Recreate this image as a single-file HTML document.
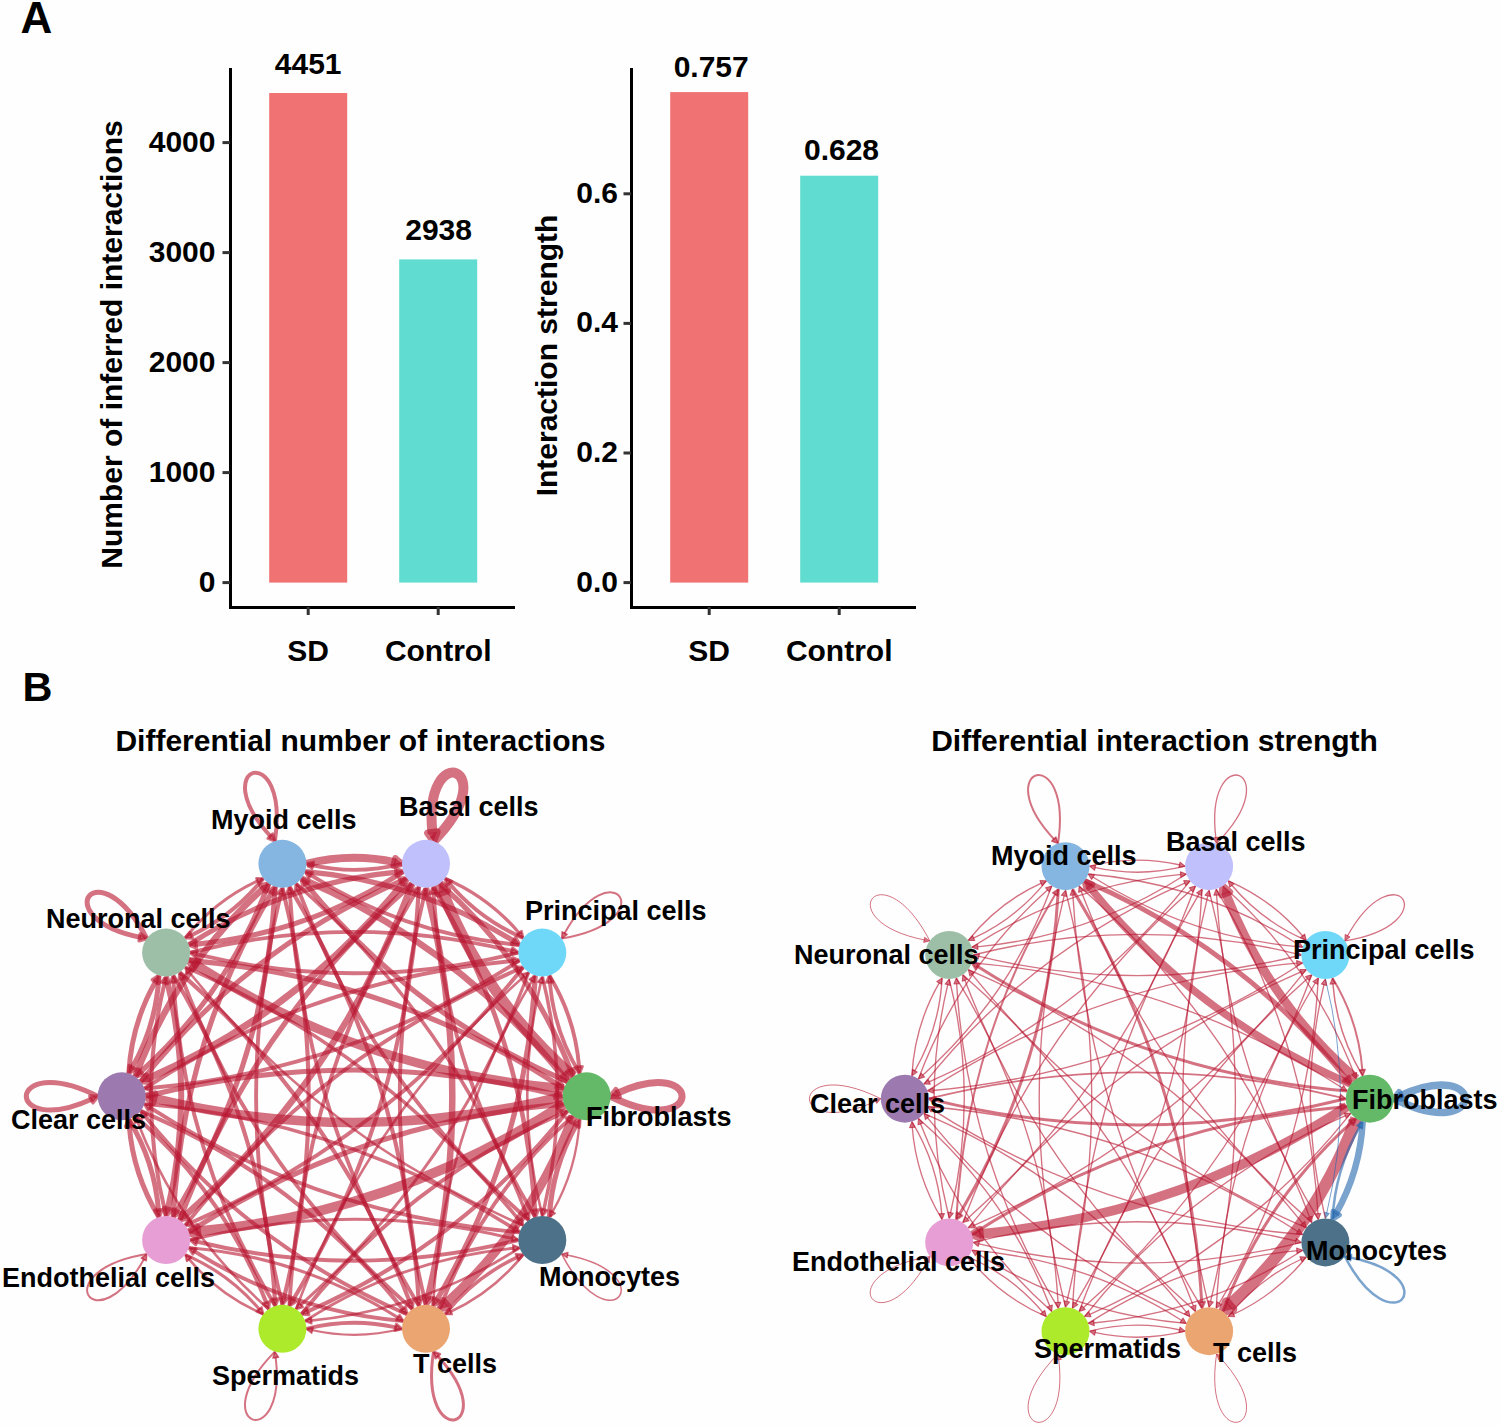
<!DOCTYPE html>
<html><head><meta charset="utf-8"><style>
html,body{margin:0;padding:0;background:#fefefe;}
svg{display:block;}

text{font-family:"Liberation Sans", sans-serif;font-weight:bold;fill:#000;}
</style></head><body>
<svg width="1500" height="1427" viewBox="0 0 1500 1427">
<rect width="1500" height="1427" fill="#fefefe"/>
<text x="20.5" y="33.3" font-size="44" text-anchor="start" >A</text>
<rect x="269.2" y="93.0" width="78" height="489.6" fill="#F17273"/>
<rect x="399.2" y="259.4" width="78" height="323.2" fill="#61DCD0"/>
<path d="M230.5,68 V607.5 H515" fill="none" stroke="#000" stroke-width="3"/>
<line x1="222.5" y1="582.6" x2="230" y2="582.6" stroke="#333" stroke-width="3"/>
<text x="215.5" y="591.6" font-size="30" text-anchor="end" >0</text>
<line x1="222.5" y1="472.6" x2="230" y2="472.6" stroke="#333" stroke-width="3"/>
<text x="215.5" y="481.6" font-size="30" text-anchor="end" >1000</text>
<line x1="222.5" y1="362.6" x2="230" y2="362.6" stroke="#333" stroke-width="3"/>
<text x="215.5" y="371.6" font-size="30" text-anchor="end" >2000</text>
<line x1="222.5" y1="252.6" x2="230" y2="252.6" stroke="#333" stroke-width="3"/>
<text x="215.5" y="261.6" font-size="30" text-anchor="end" >3000</text>
<line x1="222.5" y1="142.6" x2="230" y2="142.6" stroke="#333" stroke-width="3"/>
<text x="215.5" y="151.60000000000002" font-size="30" text-anchor="end" >4000</text>
<line x1="308.2" y1="607" x2="308.2" y2="615" stroke="#333" stroke-width="3"/>
<line x1="438.2" y1="607" x2="438.2" y2="615" stroke="#333" stroke-width="3"/>
<text x="308.2" y="661" font-size="30" text-anchor="middle" >SD</text>
<text x="438.2" y="661" font-size="30" text-anchor="middle" >Control</text>
<text x="308.2" y="73.5" font-size="30" text-anchor="middle" >4451</text>
<text x="438.6" y="239.5" font-size="30" text-anchor="middle" >2938</text>
<text x="0" y="0" font-size="30" text-anchor="middle" transform="translate(122.3,344.5) rotate(-90)">Number of inferred interactions</text>
<rect x="670.2" y="92.1" width="78" height="490.5" fill="#F17273"/>
<rect x="800.2" y="175.7" width="78" height="406.9" fill="#61DCD0"/>
<path d="M631.5,68 V607.5 H916" fill="none" stroke="#000" stroke-width="3"/>
<line x1="623.5" y1="582.6" x2="631" y2="582.6" stroke="#333" stroke-width="3"/>
<text x="618" y="591.6" font-size="30" text-anchor="end" >0.0</text>
<line x1="623.5" y1="453.0" x2="631" y2="453.0" stroke="#333" stroke-width="3"/>
<text x="618" y="462.0" font-size="30" text-anchor="end" >0.2</text>
<line x1="623.5" y1="323.4" x2="631" y2="323.4" stroke="#333" stroke-width="3"/>
<text x="618" y="332.40000000000003" font-size="30" text-anchor="end" >0.4</text>
<line x1="623.5" y1="193.8" x2="631" y2="193.8" stroke="#333" stroke-width="3"/>
<text x="618" y="202.8" font-size="30" text-anchor="end" >0.6</text>
<line x1="709.2" y1="607" x2="709.2" y2="615" stroke="#333" stroke-width="3"/>
<line x1="839.2" y1="607" x2="839.2" y2="615" stroke="#333" stroke-width="3"/>
<text x="709.2" y="661" font-size="30" text-anchor="middle" >SD</text>
<text x="839.2" y="661" font-size="30" text-anchor="middle" >Control</text>
<text x="711.2" y="76.8" font-size="30" text-anchor="middle" >0.757</text>
<text x="841.5" y="159.5" font-size="30" text-anchor="middle" >0.628</text>
<text x="0" y="0" font-size="30" text-anchor="middle" transform="translate(557.2,355.5) rotate(-90)">Interaction strength</text>
<text x="22.5" y="701.2" font-size="41.5" text-anchor="start" >B</text>
<text x="360.5" y="750.5" font-size="30" text-anchor="middle" >Differential number of interactions</text>
<text x="1154.5" y="750.5" font-size="30" text-anchor="middle" >Differential interaction strength</text>
<path d="M579.6,1073.4Q553.7,1030.7 549.8,981.3" fill="none" stroke="#b8142f" stroke-opacity="0.6" stroke-width="3.90"/><path d="M549.4,975.5L553.1,982.0 546.6,982.4Z" fill="#b8142f" fill-opacity="0.6" stroke="#b8142f" stroke-opacity="0.6" stroke-width="2.92" stroke-linejoin="round"/>
<path d="M573.1,1076.6Q484.9,999.4 442.4,890.7" fill="none" stroke="#b8142f" stroke-opacity="0.6" stroke-width="11.00"/><path d="M439.7,883.5L447.2,890.1 438.5,893.4Z" fill="#b8142f" fill-opacity="0.6" stroke="#b8142f" stroke-opacity="0.6" stroke-width="8.25" stroke-linejoin="round"/>
<path d="M567.6,1081.7Q411.8,1014.8 305.4,883.3" fill="none" stroke="#b8142f" stroke-opacity="0.6" stroke-width="5.20"/><path d="M301.4,878.4L308.6,881.7 303.1,886.1Z" fill="#b8142f" fill-opacity="0.6" stroke="#b8142f" stroke-opacity="0.6" stroke-width="3.90" stroke-linejoin="round"/>
<path d="M564.0,1088.5Q364.0,1072.0 195.1,964.4" fill="none" stroke="#b8142f" stroke-opacity="0.6" stroke-width="9.00"/><path d="M188.8,960.4L198.0,961.2 193.4,968.4Z" fill="#b8142f" fill-opacity="0.6" stroke="#b8142f" stroke-opacity="0.6" stroke-width="6.75" stroke-linejoin="round"/>
<path d="M562.7,1096.3Q357.7,1148.0 152.7,1098.0" fill="none" stroke="#b8142f" stroke-opacity="0.6" stroke-width="9.50"/><path d="M145.7,1096.3L154.9,1094.0 152.8,1102.6Z" fill="#b8142f" fill-opacity="0.6" stroke="#b8142f" stroke-opacity="0.6" stroke-width="7.12" stroke-linejoin="round"/>
<path d="M564.0,1104.1Q395.7,1213.4 196.3,1231.6" fill="none" stroke="#b8142f" stroke-opacity="0.6" stroke-width="10.00"/><path d="M188.8,1232.2L196.9,1227.0 197.7,1236.0Z" fill="#b8142f" fill-opacity="0.6" stroke="#b8142f" stroke-opacity="0.6" stroke-width="7.50" stroke-linejoin="round"/>
<path d="M567.6,1110.9Q461.9,1243.8 306.7,1311.9" fill="none" stroke="#b8142f" stroke-opacity="0.6" stroke-width="4.16"/><path d="M301.4,1314.2L306.3,1308.5 308.9,1314.6Z" fill="#b8142f" fill-opacity="0.6" stroke="#b8142f" stroke-opacity="0.6" stroke-width="3.12" stroke-linejoin="round"/>
<path d="M573.1,1116.0Q532.0,1226.0 445.1,1304.2" fill="none" stroke="#b8142f" stroke-opacity="0.6" stroke-width="9.10"/><path d="M439.7,1309.1L443.0,1300.4 448.7,1306.8Z" fill="#b8142f" fill-opacity="0.6" stroke="#b8142f" stroke-opacity="0.6" stroke-width="6.82" stroke-linejoin="round"/>
<path d="M579.6,1119.2Q577.0,1169.2 552.2,1212.4" fill="none" stroke="#b8142f" stroke-opacity="0.6" stroke-width="2.34"/><path d="M549.4,1217.1L550.0,1210.2 555.1,1213.2Z" fill="#b8142f" fill-opacity="0.6" stroke="#b8142f" stroke-opacity="0.6" stroke-width="1.75" stroke-linejoin="round"/>
<path d="M549.4,975.5Q575.3,1018.2 579.2,1067.6" fill="none" stroke="#b8142f" stroke-opacity="0.6" stroke-width="3.90"/><path d="M579.6,1073.4L575.9,1066.9 582.4,1066.5Z" fill="#b8142f" fill-opacity="0.6" stroke="#b8142f" stroke-opacity="0.6" stroke-width="2.92" stroke-linejoin="round"/>
<path d="M523.2,938.0Q479.3,919.2 448.7,882.8" fill="none" stroke="#b8142f" stroke-opacity="0.6" stroke-width="3.90"/><path d="M445.1,878.4L451.9,881.4 446.8,885.6Z" fill="#b8142f" fill-opacity="0.6" stroke="#b8142f" stroke-opacity="0.6" stroke-width="2.92" stroke-linejoin="round"/>
<path d="M519.6,944.8Q406.0,935.5 310.0,874.7" fill="none" stroke="#b8142f" stroke-opacity="0.6" stroke-width="3.90"/><path d="M305.1,871.6L312.5,872.4 308.9,877.9Z" fill="#b8142f" fill-opacity="0.6" stroke="#b8142f" stroke-opacity="0.6" stroke-width="2.92" stroke-linejoin="round"/>
<path d="M518.3,952.6Q357.2,993.2 196.1,954.1" fill="none" stroke="#b8142f" stroke-opacity="0.6" stroke-width="3.90"/><path d="M190.1,952.6L197.4,951.0 195.8,957.4Z" fill="#b8142f" fill-opacity="0.6" stroke="#b8142f" stroke-opacity="0.6" stroke-width="2.92" stroke-linejoin="round"/>
<path d="M519.6,960.4Q350.7,1070.1 150.5,1088.0" fill="none" stroke="#b8142f" stroke-opacity="0.6" stroke-width="3.90"/><path d="M144.4,1088.5L150.8,1084.7 151.3,1091.2Z" fill="#b8142f" fill-opacity="0.6" stroke="#b8142f" stroke-opacity="0.6" stroke-width="2.92" stroke-linejoin="round"/>
<path d="M523.2,967.2Q388.6,1136.6 190.5,1223.1" fill="none" stroke="#b8142f" stroke-opacity="0.6" stroke-width="3.90"/><path d="M185.2,1225.4L190.0,1219.8 192.6,1225.8Z" fill="#b8142f" fill-opacity="0.6" stroke="#b8142f" stroke-opacity="0.6" stroke-width="2.92" stroke-linejoin="round"/>
<path d="M528.7,972.4Q455.7,1167.4 300.2,1305.3" fill="none" stroke="#b8142f" stroke-opacity="0.6" stroke-width="3.12"/><path d="M296.0,1309.1L298.8,1302.5 302.9,1307.1Z" fill="#b8142f" fill-opacity="0.6" stroke="#b8142f" stroke-opacity="0.6" stroke-width="2.34" stroke-linejoin="round"/>
<path d="M535.2,975.5Q526.0,1150.3 436.5,1300.3" fill="none" stroke="#b8142f" stroke-opacity="0.6" stroke-width="5.20"/><path d="M433.1,1305.9L433.7,1298.0 439.8,1301.6Z" fill="#b8142f" fill-opacity="0.6" stroke="#b8142f" stroke-opacity="0.6" stroke-width="3.90" stroke-linejoin="round"/>
<path d="M542.3,976.6Q571.8,1093.5 543.7,1210.4" fill="none" stroke="#b8142f" stroke-opacity="0.6" stroke-width="3.51"/><path d="M542.3,1216.0L540.7,1208.9 547.0,1210.4Z" fill="#b8142f" fill-opacity="0.6" stroke="#b8142f" stroke-opacity="0.6" stroke-width="2.63" stroke-linejoin="round"/>
<path d="M439.7,883.5Q528.4,961.3 570.9,1070.9" fill="none" stroke="#b8142f" stroke-opacity="0.6" stroke-width="5.20"/><path d="M573.1,1076.6L567.2,1071.2 573.8,1068.7Z" fill="#b8142f" fill-opacity="0.6" stroke="#b8142f" stroke-opacity="0.6" stroke-width="3.90" stroke-linejoin="round"/>
<path d="M445.1,878.4Q489.1,897.3 519.7,933.7" fill="none" stroke="#b8142f" stroke-opacity="0.6" stroke-width="3.25"/><path d="M523.2,938.0L516.7,935.0 521.6,931.0Z" fill="#b8142f" fill-opacity="0.6" stroke="#b8142f" stroke-opacity="0.6" stroke-width="2.44" stroke-linejoin="round"/>
<path d="M402.0,863.8Q357.0,875.2 311.9,865.1" fill="none" stroke="#b8142f" stroke-opacity="0.6" stroke-width="3.90"/><path d="M306.4,863.8L313.6,862.1 312.1,868.5Z" fill="#b8142f" fill-opacity="0.6" stroke="#b8142f" stroke-opacity="0.6" stroke-width="2.92" stroke-linejoin="round"/>
<path d="M403.3,871.6Q307.9,933.5 195.0,944.3" fill="none" stroke="#b8142f" stroke-opacity="0.6" stroke-width="5.20"/><path d="M188.8,944.8L195.5,940.7 196.2,947.7Z" fill="#b8142f" fill-opacity="0.6" stroke="#b8142f" stroke-opacity="0.6" stroke-width="3.90" stroke-linejoin="round"/>
<path d="M407.0,878.4Q301.6,1010.9 147.1,1079.0" fill="none" stroke="#b8142f" stroke-opacity="0.6" stroke-width="7.00"/><path d="M140.8,1081.7L146.2,1075.1 149.3,1082.3Z" fill="#b8142f" fill-opacity="0.6" stroke="#b8142f" stroke-opacity="0.6" stroke-width="5.25" stroke-linejoin="round"/>
<path d="M412.4,883.5Q339.7,1077.9 185.0,1215.6" fill="none" stroke="#b8142f" stroke-opacity="0.6" stroke-width="6.50"/><path d="M179.7,1220.2L182.8,1212.5 187.8,1218.2Z" fill="#b8142f" fill-opacity="0.6" stroke="#b8142f" stroke-opacity="0.6" stroke-width="4.88" stroke-linejoin="round"/>
<path d="M419.0,886.7Q407.2,1109.6 292.6,1300.7" fill="none" stroke="#b8142f" stroke-opacity="0.6" stroke-width="4.16"/><path d="M289.4,1305.9L290.1,1298.4 295.8,1301.8Z" fill="#b8142f" fill-opacity="0.6" stroke="#b8142f" stroke-opacity="0.6" stroke-width="3.12" stroke-linejoin="round"/>
<path d="M426.0,887.8Q477.8,1093.2 427.6,1298.5" fill="none" stroke="#b8142f" stroke-opacity="0.6" stroke-width="6.50"/><path d="M426.0,1304.8L424.1,1296.7 431.5,1298.5Z" fill="#b8142f" fill-opacity="0.6" stroke="#b8142f" stroke-opacity="0.6" stroke-width="4.88" stroke-linejoin="round"/>
<path d="M433.1,886.7Q524.2,1036.5 534.9,1211.1" fill="none" stroke="#b8142f" stroke-opacity="0.6" stroke-width="4.68"/><path d="M535.2,1217.1L531.4,1210.4 538.2,1210.0Z" fill="#b8142f" fill-opacity="0.6" stroke="#b8142f" stroke-opacity="0.6" stroke-width="3.51" stroke-linejoin="round"/>
<path d="M301.4,878.4Q457.0,945.1 563.3,1076.3" fill="none" stroke="#b8142f" stroke-opacity="0.6" stroke-width="6.50"/><path d="M567.6,1081.7L560.0,1078.3 565.9,1073.5Z" fill="#b8142f" fill-opacity="0.6" stroke="#b8142f" stroke-opacity="0.6" stroke-width="4.88" stroke-linejoin="round"/>
<path d="M305.1,871.6Q418.5,880.9 514.3,941.5" fill="none" stroke="#b8142f" stroke-opacity="0.6" stroke-width="5.20"/><path d="M519.6,944.8L511.7,944.0 515.5,938.1Z" fill="#b8142f" fill-opacity="0.6" stroke="#b8142f" stroke-opacity="0.6" stroke-width="3.90" stroke-linejoin="round"/>
<path d="M306.4,863.8Q350.9,852.6 395.5,862.3" fill="none" stroke="#b8142f" stroke-opacity="0.6" stroke-width="8.00"/><path d="M402.0,863.8L393.4,866.0 395.3,858.0Z" fill="#b8142f" fill-opacity="0.6" stroke="#b8142f" stroke-opacity="0.6" stroke-width="6.00" stroke-linejoin="round"/>
<path d="M263.3,878.4Q233.5,915.8 190.4,935.7" fill="none" stroke="#b8142f" stroke-opacity="0.6" stroke-width="4.00"/><path d="M185.2,938.0L189.9,932.3 192.6,938.3Z" fill="#b8142f" fill-opacity="0.6" stroke="#b8142f" stroke-opacity="0.6" stroke-width="3.00" stroke-linejoin="round"/>
<path d="M268.7,883.5Q227.4,994.0 139.9,1072.5" fill="none" stroke="#b8142f" stroke-opacity="0.6" stroke-width="5.20"/><path d="M135.3,1076.6L138.3,1069.2 143.0,1074.5Z" fill="#b8142f" fill-opacity="0.6" stroke="#b8142f" stroke-opacity="0.6" stroke-width="3.90" stroke-linejoin="round"/>
<path d="M275.3,886.7Q266.0,1061.5 176.6,1211.5" fill="none" stroke="#b8142f" stroke-opacity="0.6" stroke-width="5.20"/><path d="M173.2,1217.1L173.8,1209.2 179.9,1212.8Z" fill="#b8142f" fill-opacity="0.6" stroke="#b8142f" stroke-opacity="0.6" stroke-width="3.90" stroke-linejoin="round"/>
<path d="M282.4,887.8Q334.1,1093.2 283.9,1298.5" fill="none" stroke="#b8142f" stroke-opacity="0.6" stroke-width="4.16"/><path d="M282.4,1304.8L280.7,1297.4 287.2,1299.1Z" fill="#b8142f" fill-opacity="0.6" stroke="#b8142f" stroke-opacity="0.6" stroke-width="3.12" stroke-linejoin="round"/>
<path d="M289.4,886.7Q405.4,1077.4 418.6,1299.9" fill="none" stroke="#b8142f" stroke-opacity="0.6" stroke-width="4.16"/><path d="M419.0,1305.9L415.3,1299.3 421.9,1298.9Z" fill="#b8142f" fill-opacity="0.6" stroke="#b8142f" stroke-opacity="0.6" stroke-width="3.12" stroke-linejoin="round"/>
<path d="M296.0,883.5Q452.6,1020.7 526.7,1215.0" fill="none" stroke="#b8142f" stroke-opacity="0.6" stroke-width="3.51"/><path d="M528.7,1220.2L523.3,1215.3 529.3,1213.0Z" fill="#b8142f" fill-opacity="0.6" stroke="#b8142f" stroke-opacity="0.6" stroke-width="2.63" stroke-linejoin="round"/>
<path d="M188.8,960.4Q389.5,976.9 558.8,1085.2" fill="none" stroke="#b8142f" stroke-opacity="0.6" stroke-width="5.20"/><path d="M564.0,1088.5L556.1,1087.7 560.0,1081.7Z" fill="#b8142f" fill-opacity="0.6" stroke="#b8142f" stroke-opacity="0.6" stroke-width="3.90" stroke-linejoin="round"/>
<path d="M190.1,952.6Q351.2,912.0 512.3,951.1" fill="none" stroke="#b8142f" stroke-opacity="0.6" stroke-width="3.90"/><path d="M518.3,952.6L511.0,954.2 512.6,947.8Z" fill="#b8142f" fill-opacity="0.6" stroke="#b8142f" stroke-opacity="0.6" stroke-width="2.92" stroke-linejoin="round"/>
<path d="M188.8,944.8Q284.2,882.9 397.1,872.1" fill="none" stroke="#b8142f" stroke-opacity="0.6" stroke-width="5.20"/><path d="M403.3,871.6L396.6,875.7 396.0,868.7Z" fill="#b8142f" fill-opacity="0.6" stroke="#b8142f" stroke-opacity="0.6" stroke-width="3.90" stroke-linejoin="round"/>
<path d="M185.2,938.0Q215.0,900.5 258.2,880.6" fill="none" stroke="#b8142f" stroke-opacity="0.6" stroke-width="3.00"/><path d="M263.3,878.4L258.7,883.8 256.2,878.2Z" fill="#b8142f" fill-opacity="0.6" stroke="#b8142f" stroke-opacity="0.6" stroke-width="2.25" stroke-linejoin="round"/>
<path d="M159.0,975.5Q156.4,1025.3 131.8,1068.2" fill="none" stroke="#b8142f" stroke-opacity="0.6" stroke-width="5.00"/><path d="M128.8,1073.4L129.3,1065.6 135.3,1069.1Z" fill="#b8142f" fill-opacity="0.6" stroke="#b8142f" stroke-opacity="0.6" stroke-width="3.75" stroke-linejoin="round"/>
<path d="M166.1,976.6Q195.5,1093.1 167.7,1209.6" fill="none" stroke="#b8142f" stroke-opacity="0.6" stroke-width="6.00"/><path d="M166.1,1216.0L164.2,1208.0 171.4,1209.8Z" fill="#b8142f" fill-opacity="0.6" stroke="#b8142f" stroke-opacity="0.6" stroke-width="4.50" stroke-linejoin="round"/>
<path d="M173.2,975.5Q264.3,1125.3 274.9,1299.9" fill="none" stroke="#b8142f" stroke-opacity="0.6" stroke-width="4.16"/><path d="M275.3,1305.9L271.6,1299.3 278.2,1298.9Z" fill="#b8142f" fill-opacity="0.6" stroke="#b8142f" stroke-opacity="0.6" stroke-width="3.12" stroke-linejoin="round"/>
<path d="M179.7,972.4Q336.1,1109.3 410.2,1303.1" fill="none" stroke="#b8142f" stroke-opacity="0.6" stroke-width="4.16"/><path d="M412.4,1309.1L406.9,1303.9 413.1,1301.6Z" fill="#b8142f" fill-opacity="0.6" stroke="#b8142f" stroke-opacity="0.6" stroke-width="3.12" stroke-linejoin="round"/>
<path d="M185.2,967.2Q384.1,1052.6 519.6,1220.9" fill="none" stroke="#b8142f" stroke-opacity="0.6" stroke-width="3.51"/><path d="M523.2,1225.4L516.6,1222.3 521.6,1218.3Z" fill="#b8142f" fill-opacity="0.6" stroke="#b8142f" stroke-opacity="0.6" stroke-width="2.63" stroke-linejoin="round"/>
<path d="M145.7,1096.3Q351.1,1044.5 556.4,1094.7" fill="none" stroke="#b8142f" stroke-opacity="0.6" stroke-width="5.20"/><path d="M562.7,1096.3L555.0,1098.0 556.7,1091.2Z" fill="#b8142f" fill-opacity="0.6" stroke="#b8142f" stroke-opacity="0.6" stroke-width="3.90" stroke-linejoin="round"/>
<path d="M144.4,1088.5Q313.3,978.9 513.5,960.9" fill="none" stroke="#b8142f" stroke-opacity="0.6" stroke-width="3.90"/><path d="M519.6,960.4L513.2,964.2 512.7,957.7Z" fill="#b8142f" fill-opacity="0.6" stroke="#b8142f" stroke-opacity="0.6" stroke-width="2.92" stroke-linejoin="round"/>
<path d="M140.8,1081.7Q246.3,949.0 401.2,880.9" fill="none" stroke="#b8142f" stroke-opacity="0.6" stroke-width="5.00"/><path d="M407.0,878.4L402.0,884.4 399.2,878.0Z" fill="#b8142f" fill-opacity="0.6" stroke="#b8142f" stroke-opacity="0.6" stroke-width="3.75" stroke-linejoin="round"/>
<path d="M135.3,1076.6Q176.6,966.3 263.9,887.8" fill="none" stroke="#b8142f" stroke-opacity="0.6" stroke-width="6.50"/><path d="M268.7,883.5L265.7,891.3 260.6,885.7Z" fill="#b8142f" fill-opacity="0.6" stroke="#b8142f" stroke-opacity="0.6" stroke-width="4.88" stroke-linejoin="round"/>
<path d="M128.8,1073.4Q131.4,1023.6 156.0,980.7" fill="none" stroke="#b8142f" stroke-opacity="0.6" stroke-width="5.00"/><path d="M159.0,975.5L158.5,983.3 152.5,979.8Z" fill="#b8142f" fill-opacity="0.6" stroke="#b8142f" stroke-opacity="0.6" stroke-width="3.75" stroke-linejoin="round"/>
<path d="M128.8,1119.2Q154.7,1161.8 158.6,1211.1" fill="none" stroke="#b8142f" stroke-opacity="0.6" stroke-width="5.00"/><path d="M159.0,1217.1L155.0,1210.3 162.0,1209.8Z" fill="#b8142f" fill-opacity="0.6" stroke="#b8142f" stroke-opacity="0.6" stroke-width="3.75" stroke-linejoin="round"/>
<path d="M135.3,1116.0Q224.1,1193.8 266.6,1303.4" fill="none" stroke="#b8142f" stroke-opacity="0.6" stroke-width="4.16"/><path d="M268.7,1309.1L263.2,1303.9 269.4,1301.6Z" fill="#b8142f" fill-opacity="0.6" stroke="#b8142f" stroke-opacity="0.6" stroke-width="3.12" stroke-linejoin="round"/>
<path d="M140.8,1110.9Q296.9,1177.9 403.4,1309.7" fill="none" stroke="#b8142f" stroke-opacity="0.6" stroke-width="4.16"/><path d="M407.0,1314.2L400.2,1311.1 405.3,1306.9Z" fill="#b8142f" fill-opacity="0.6" stroke="#b8142f" stroke-opacity="0.6" stroke-width="3.12" stroke-linejoin="round"/>
<path d="M144.4,1104.1Q345.1,1120.6 514.4,1228.9" fill="none" stroke="#b8142f" stroke-opacity="0.6" stroke-width="3.51"/><path d="M519.6,1232.2L512.3,1231.4 515.8,1226.0Z" fill="#b8142f" fill-opacity="0.6" stroke="#b8142f" stroke-opacity="0.6" stroke-width="2.63" stroke-linejoin="round"/>
<path d="M188.8,1232.2Q357.7,1122.5 557.9,1104.6" fill="none" stroke="#b8142f" stroke-opacity="0.6" stroke-width="5.20"/><path d="M564.0,1104.1L557.3,1108.2 556.6,1101.1Z" fill="#b8142f" fill-opacity="0.6" stroke="#b8142f" stroke-opacity="0.6" stroke-width="3.90" stroke-linejoin="round"/>
<path d="M185.2,1225.4Q319.8,1056.0 517.9,969.5" fill="none" stroke="#b8142f" stroke-opacity="0.6" stroke-width="3.90"/><path d="M523.2,967.2L518.4,972.8 515.8,966.8Z" fill="#b8142f" fill-opacity="0.6" stroke="#b8142f" stroke-opacity="0.6" stroke-width="2.92" stroke-linejoin="round"/>
<path d="M179.7,1220.2Q252.5,1025.5 407.7,887.7" fill="none" stroke="#b8142f" stroke-opacity="0.6" stroke-width="5.20"/><path d="M412.4,883.5L409.5,890.9 404.8,885.6Z" fill="#b8142f" fill-opacity="0.6" stroke="#b8142f" stroke-opacity="0.6" stroke-width="3.90" stroke-linejoin="round"/>
<path d="M173.2,1217.1Q182.4,1042.3 271.9,892.3" fill="none" stroke="#b8142f" stroke-opacity="0.6" stroke-width="5.20"/><path d="M275.3,886.7L274.7,894.6 268.6,891.0Z" fill="#b8142f" fill-opacity="0.6" stroke="#b8142f" stroke-opacity="0.6" stroke-width="3.90" stroke-linejoin="round"/>
<path d="M166.1,1216.0Q136.6,1099.1 164.7,982.2" fill="none" stroke="#b8142f" stroke-opacity="0.6" stroke-width="4.00"/><path d="M166.1,976.6L167.7,983.9 161.3,982.3Z" fill="#b8142f" fill-opacity="0.6" stroke="#b8142f" stroke-opacity="0.6" stroke-width="3.00" stroke-linejoin="round"/>
<path d="M159.0,1217.1Q133.1,1174.5 129.2,1125.2" fill="none" stroke="#b8142f" stroke-opacity="0.6" stroke-width="5.00"/><path d="M128.8,1119.2L132.8,1126.0 125.8,1126.5Z" fill="#b8142f" fill-opacity="0.6" stroke="#b8142f" stroke-opacity="0.6" stroke-width="3.75" stroke-linejoin="round"/>
<path d="M185.2,1254.6Q229.2,1273.5 259.8,1309.9" fill="none" stroke="#b8142f" stroke-opacity="0.6" stroke-width="3.12"/><path d="M263.3,1314.2L256.8,1311.2 261.6,1307.3Z" fill="#b8142f" fill-opacity="0.6" stroke="#b8142f" stroke-opacity="0.6" stroke-width="2.34" stroke-linejoin="round"/>
<path d="M188.8,1247.8Q302.4,1257.1 398.4,1317.9" fill="none" stroke="#b8142f" stroke-opacity="0.6" stroke-width="3.12"/><path d="M403.3,1321.0L396.2,1320.2 399.6,1314.9Z" fill="#b8142f" fill-opacity="0.6" stroke="#b8142f" stroke-opacity="0.6" stroke-width="2.34" stroke-linejoin="round"/>
<path d="M190.1,1240.0Q351.5,1199.3 512.8,1238.6" fill="none" stroke="#b8142f" stroke-opacity="0.6" stroke-width="2.93"/><path d="M518.3,1240.0L511.4,1241.5 512.8,1235.5Z" fill="#b8142f" fill-opacity="0.6" stroke="#b8142f" stroke-opacity="0.6" stroke-width="2.20" stroke-linejoin="round"/>
<path d="M301.4,1314.2Q407.1,1181.3 562.4,1113.2" fill="none" stroke="#b8142f" stroke-opacity="0.6" stroke-width="3.90"/><path d="M567.6,1110.9L562.8,1116.5 560.2,1110.5Z" fill="#b8142f" fill-opacity="0.6" stroke="#b8142f" stroke-opacity="0.6" stroke-width="2.92" stroke-linejoin="round"/>
<path d="M296.0,1309.1Q368.9,1114.0 524.4,976.1" fill="none" stroke="#b8142f" stroke-opacity="0.6" stroke-width="2.60"/><path d="M528.7,972.4L525.9,978.8 521.9,974.2Z" fill="#b8142f" fill-opacity="0.6" stroke="#b8142f" stroke-opacity="0.6" stroke-width="1.95" stroke-linejoin="round"/>
<path d="M289.4,1305.9Q301.2,1083.0 415.8,891.9" fill="none" stroke="#b8142f" stroke-opacity="0.6" stroke-width="3.90"/><path d="M419.0,886.7L418.3,894.1 412.7,890.7Z" fill="#b8142f" fill-opacity="0.6" stroke="#b8142f" stroke-opacity="0.6" stroke-width="2.92" stroke-linejoin="round"/>
<path d="M282.4,1304.8Q230.5,1099.1 281.0,893.4" fill="none" stroke="#b8142f" stroke-opacity="0.6" stroke-width="3.90"/><path d="M282.4,887.8L283.9,895.1 277.6,893.5Z" fill="#b8142f" fill-opacity="0.6" stroke="#b8142f" stroke-opacity="0.6" stroke-width="2.92" stroke-linejoin="round"/>
<path d="M275.3,1305.9Q184.2,1156.1 173.5,981.5" fill="none" stroke="#b8142f" stroke-opacity="0.6" stroke-width="3.90"/><path d="M173.2,975.5L176.8,982.0 170.3,982.4Z" fill="#b8142f" fill-opacity="0.6" stroke="#b8142f" stroke-opacity="0.6" stroke-width="2.92" stroke-linejoin="round"/>
<path d="M268.7,1309.1Q179.8,1231.2 137.3,1121.3" fill="none" stroke="#b8142f" stroke-opacity="0.6" stroke-width="2.60"/><path d="M135.3,1116.0L140.4,1120.8 134.8,1123.0Z" fill="#b8142f" fill-opacity="0.6" stroke="#b8142f" stroke-opacity="0.6" stroke-width="1.95" stroke-linejoin="round"/>
<path d="M263.3,1314.2Q219.2,1295.3 188.6,1258.7" fill="none" stroke="#b8142f" stroke-opacity="0.6" stroke-width="2.60"/><path d="M185.2,1254.6L191.5,1257.5 186.8,1261.3Z" fill="#b8142f" fill-opacity="0.6" stroke="#b8142f" stroke-opacity="0.6" stroke-width="1.95" stroke-linejoin="round"/>
<path d="M306.4,1328.8Q351.4,1317.4 396.5,1327.5" fill="none" stroke="#b8142f" stroke-opacity="0.6" stroke-width="3.77"/><path d="M402.0,1328.8L394.8,1330.5 396.3,1324.1Z" fill="#b8142f" fill-opacity="0.6" stroke="#b8142f" stroke-opacity="0.6" stroke-width="2.83" stroke-linejoin="round"/>
<path d="M305.1,1321.0Q400.8,1258.9 514.2,1248.2" fill="none" stroke="#b8142f" stroke-opacity="0.6" stroke-width="2.93"/><path d="M519.6,1247.8L513.5,1251.4 513.0,1245.2Z" fill="#b8142f" fill-opacity="0.6" stroke="#b8142f" stroke-opacity="0.6" stroke-width="2.20" stroke-linejoin="round"/>
<path d="M439.7,1309.1Q481.0,1198.6 568.5,1120.1" fill="none" stroke="#b8142f" stroke-opacity="0.6" stroke-width="3.90"/><path d="M573.1,1116.0L570.2,1122.9 565.9,1118.0Z" fill="#b8142f" fill-opacity="0.6" stroke="#b8142f" stroke-opacity="0.6" stroke-width="2.92" stroke-linejoin="round"/>
<path d="M433.1,1305.9Q442.4,1130.5 532.4,980.1" fill="none" stroke="#b8142f" stroke-opacity="0.6" stroke-width="2.60"/><path d="M535.2,975.5L534.6,982.5 529.4,979.4Z" fill="#b8142f" fill-opacity="0.6" stroke="#b8142f" stroke-opacity="0.6" stroke-width="1.95" stroke-linejoin="round"/>
<path d="M426.0,1304.8Q374.2,1099.1 424.7,893.4" fill="none" stroke="#b8142f" stroke-opacity="0.6" stroke-width="3.90"/><path d="M426.0,887.8L427.6,895.1 421.3,893.5Z" fill="#b8142f" fill-opacity="0.6" stroke="#b8142f" stroke-opacity="0.6" stroke-width="2.92" stroke-linejoin="round"/>
<path d="M419.0,1305.9Q303.0,1115.2 289.8,892.7" fill="none" stroke="#b8142f" stroke-opacity="0.6" stroke-width="3.90"/><path d="M289.4,886.7L293.1,893.2 286.5,893.6Z" fill="#b8142f" fill-opacity="0.6" stroke="#b8142f" stroke-opacity="0.6" stroke-width="2.92" stroke-linejoin="round"/>
<path d="M412.4,1309.1Q256.0,1172.1 182.0,978.3" fill="none" stroke="#b8142f" stroke-opacity="0.6" stroke-width="3.90"/><path d="M179.7,972.4L185.2,977.4 179.0,979.8Z" fill="#b8142f" fill-opacity="0.6" stroke="#b8142f" stroke-opacity="0.6" stroke-width="2.92" stroke-linejoin="round"/>
<path d="M407.0,1314.2Q250.9,1247.2 144.4,1115.4" fill="none" stroke="#b8142f" stroke-opacity="0.6" stroke-width="3.90"/><path d="M140.8,1110.9L147.5,1114.0 142.4,1118.1Z" fill="#b8142f" fill-opacity="0.6" stroke="#b8142f" stroke-opacity="0.6" stroke-width="2.92" stroke-linejoin="round"/>
<path d="M403.3,1321.0Q289.8,1311.7 193.7,1250.9" fill="none" stroke="#b8142f" stroke-opacity="0.6" stroke-width="3.90"/><path d="M188.8,1247.8L196.2,1248.6 192.7,1254.1Z" fill="#b8142f" fill-opacity="0.6" stroke="#b8142f" stroke-opacity="0.6" stroke-width="2.92" stroke-linejoin="round"/>
<path d="M402.0,1328.8Q356.8,1340.2 311.5,1330.0" fill="none" stroke="#b8142f" stroke-opacity="0.6" stroke-width="2.21"/><path d="M306.4,1328.8L313.0,1327.4 311.7,1333.1Z" fill="#b8142f" fill-opacity="0.6" stroke="#b8142f" stroke-opacity="0.6" stroke-width="1.66" stroke-linejoin="round"/>
<path d="M445.1,1314.2Q474.9,1276.8 518.0,1256.9" fill="none" stroke="#b8142f" stroke-opacity="0.6" stroke-width="3.51"/><path d="M523.2,1254.6L518.6,1260.2 515.9,1254.3Z" fill="#b8142f" fill-opacity="0.6" stroke="#b8142f" stroke-opacity="0.6" stroke-width="2.63" stroke-linejoin="round"/>
<path d="M549.4,1217.1Q552.0,1167.4 576.5,1124.5" fill="none" stroke="#b8142f" stroke-opacity="0.6" stroke-width="5.20"/><path d="M579.6,1119.2L579.1,1127.1 573.0,1123.5Z" fill="#b8142f" fill-opacity="0.6" stroke="#b8142f" stroke-opacity="0.6" stroke-width="3.90" stroke-linejoin="round"/>
<path d="M542.3,1216.0Q512.8,1098.9 541.0,981.8" fill="none" stroke="#b8142f" stroke-opacity="0.6" stroke-width="2.60"/><path d="M542.3,976.6L543.7,983.4 537.9,982.0Z" fill="#b8142f" fill-opacity="0.6" stroke="#b8142f" stroke-opacity="0.6" stroke-width="1.95" stroke-linejoin="round"/>
<path d="M535.2,1217.1Q444.1,1067.3 433.5,892.7" fill="none" stroke="#b8142f" stroke-opacity="0.6" stroke-width="3.90"/><path d="M433.1,886.7L436.8,893.2 430.2,893.6Z" fill="#b8142f" fill-opacity="0.6" stroke="#b8142f" stroke-opacity="0.6" stroke-width="2.92" stroke-linejoin="round"/>
<path d="M528.7,1220.2Q372.3,1083.3 298.2,889.5" fill="none" stroke="#b8142f" stroke-opacity="0.6" stroke-width="3.90"/><path d="M296.0,883.5L301.4,888.6 295.3,890.9Z" fill="#b8142f" fill-opacity="0.6" stroke="#b8142f" stroke-opacity="0.6" stroke-width="2.92" stroke-linejoin="round"/>
<path d="M523.2,1225.4Q324.3,1140.0 188.8,971.7" fill="none" stroke="#b8142f" stroke-opacity="0.6" stroke-width="2.60"/><path d="M185.2,967.2L191.5,970.2 186.7,974.0Z" fill="#b8142f" fill-opacity="0.6" stroke="#b8142f" stroke-opacity="0.6" stroke-width="1.95" stroke-linejoin="round"/>
<path d="M519.6,1232.2Q318.9,1215.7 149.6,1107.4" fill="none" stroke="#b8142f" stroke-opacity="0.6" stroke-width="3.90"/><path d="M144.4,1104.1L151.8,1104.9 148.2,1110.4Z" fill="#b8142f" fill-opacity="0.6" stroke="#b8142f" stroke-opacity="0.6" stroke-width="2.92" stroke-linejoin="round"/>
<path d="M518.3,1240.0Q357.2,1280.6 196.1,1241.5" fill="none" stroke="#b8142f" stroke-opacity="0.6" stroke-width="3.90"/><path d="M190.1,1240.0L197.4,1238.4 195.8,1244.8Z" fill="#b8142f" fill-opacity="0.6" stroke="#b8142f" stroke-opacity="0.6" stroke-width="2.92" stroke-linejoin="round"/>
<path d="M519.6,1247.8Q423.8,1309.9 310.5,1320.6" fill="none" stroke="#b8142f" stroke-opacity="0.6" stroke-width="2.60"/><path d="M305.1,1321.0L311.1,1317.5 311.6,1323.5Z" fill="#b8142f" fill-opacity="0.6" stroke="#b8142f" stroke-opacity="0.6" stroke-width="1.95" stroke-linejoin="round"/>
<path d="M523.2,1254.6Q493.4,1292.1 450.0,1312.0" fill="none" stroke="#b8142f" stroke-opacity="0.6" stroke-width="2.60"/><path d="M445.1,1314.2L449.6,1308.9 452.1,1314.4Z" fill="#b8142f" fill-opacity="0.6" stroke="#b8142f" stroke-opacity="0.6" stroke-width="1.95" stroke-linejoin="round"/>
<path d="M610.7,1096.3C703.8,1142.9 705.9,1052.8 616.8,1093.4" fill="none" stroke="#b8142f" stroke-opacity="0.6" stroke-width="7.00"/><path d="M610.7,1096.3L615.9,1089.5 619.2,1096.6Z" fill="#b8142f" fill-opacity="0.6" stroke="#b8142f" stroke-opacity="0.6" stroke-width="5.25" stroke-linejoin="round"/>
<path d="M561.7,938.5C665.0,921.3 612.6,846.6 564.2,933.9" fill="none" stroke="#b8142f" stroke-opacity="0.6" stroke-width="2.00"/><path d="M561.7,938.5L562.1,931.8 567.2,934.5Z" fill="#b8142f" fill-opacity="0.6" stroke="#b8142f" stroke-opacity="0.6" stroke-width="1.50" stroke-linejoin="round"/>
<path d="M433.5,841.0C506.3,767.0 422.0,737.2 432.5,833.3" fill="none" stroke="#b8142f" stroke-opacity="0.6" stroke-width="10.00"/><path d="M433.5,841.0L427.9,833.1 436.9,832.0Z" fill="#b8142f" fill-opacity="0.6" stroke="#b8142f" stroke-opacity="0.6" stroke-width="7.50" stroke-linejoin="round"/>
<path d="M274.9,841.0C290.5,737.7 203.5,764.1 271.0,836.9" fill="none" stroke="#b8142f" stroke-opacity="0.6" stroke-width="4.00"/><path d="M274.9,841.0L267.9,838.4 272.7,833.8Z" fill="#b8142f" fill-opacity="0.6" stroke="#b8142f" stroke-opacity="0.6" stroke-width="3.00" stroke-linejoin="round"/>
<path d="M146.7,938.5C98.6,845.9 43.9,918.0 140.6,937.4" fill="none" stroke="#b8142f" stroke-opacity="0.6" stroke-width="5.00"/><path d="M146.7,938.5L139.2,940.7 140.4,933.8Z" fill="#b8142f" fill-opacity="0.6" stroke="#b8142f" stroke-opacity="0.6" stroke-width="3.75" stroke-linejoin="round"/>
<path d="M97.7,1096.3C4.4,1049.7 2.5,1140.1 92.1,1099.0" fill="none" stroke="#b8142f" stroke-opacity="0.6" stroke-width="5.00"/><path d="M97.7,1096.3L92.9,1102.5 89.9,1096.2Z" fill="#b8142f" fill-opacity="0.6" stroke="#b8142f" stroke-opacity="0.6" stroke-width="3.75" stroke-linejoin="round"/>
<path d="M146.7,1254.1C43.4,1271.3 95.8,1346.0 144.2,1258.7" fill="none" stroke="#b8142f" stroke-opacity="0.6" stroke-width="2.00"/><path d="M146.7,1254.1L146.3,1260.8 141.2,1258.1Z" fill="#b8142f" fill-opacity="0.6" stroke="#b8142f" stroke-opacity="0.6" stroke-width="1.50" stroke-linejoin="round"/>
<path d="M274.9,1351.6C201.5,1426.2 287.8,1455.9 275.6,1356.8" fill="none" stroke="#b8142f" stroke-opacity="0.6" stroke-width="2.00"/><path d="M274.9,1351.6L278.6,1357.3 272.9,1358.1Z" fill="#b8142f" fill-opacity="0.6" stroke="#b8142f" stroke-opacity="0.6" stroke-width="1.50" stroke-linejoin="round"/>
<path d="M433.5,1351.6C417.9,1454.9 504.9,1428.5 437.4,1355.7" fill="none" stroke="#b8142f" stroke-opacity="0.6" stroke-width="3.00"/><path d="M433.5,1351.6L440.1,1354.1 435.6,1358.4Z" fill="#b8142f" fill-opacity="0.6" stroke="#b8142f" stroke-opacity="0.6" stroke-width="2.25" stroke-linejoin="round"/>
<path d="M561.7,1254.1C609.9,1347.0 664.8,1274.1 566.8,1255.0" fill="none" stroke="#b8142f" stroke-opacity="0.6" stroke-width="1.50"/><path d="M561.7,1254.1L568.1,1252.4 567.1,1257.9Z" fill="#b8142f" fill-opacity="0.6" stroke="#b8142f" stroke-opacity="0.6" stroke-width="1.12" stroke-linejoin="round"/>
<circle cx="586.7" cy="1096.3" r="24" fill="#63B967"/>
<circle cx="542.3" cy="952.6" r="24" fill="#6FD7F7"/>
<circle cx="426.0" cy="863.8" r="24" fill="#C0C0FD"/>
<circle cx="282.4" cy="863.8" r="24" fill="#85B6E1"/>
<circle cx="166.1" cy="952.6" r="24" fill="#9EBFA7"/>
<circle cx="121.7" cy="1096.3" r="24" fill="#9C79AE"/>
<circle cx="166.1" cy="1240.0" r="24" fill="#E69ED4"/>
<circle cx="282.4" cy="1328.8" r="24" fill="#ADEA2C"/>
<circle cx="426.0" cy="1328.8" r="24" fill="#EBA571"/>
<circle cx="542.3" cy="1240.0" r="24" fill="#4D7189"/>
<path d="M1362.7,1075.8Q1336.6,1032.8 1332.8,983.0" fill="none" stroke="#b8142f" stroke-opacity="0.6" stroke-width="1.50"/><path d="M1332.5,977.9L1335.7,983.7 1330.1,984.1Z" fill="#b8142f" fill-opacity="0.6" stroke="#b8142f" stroke-opacity="0.6" stroke-width="1.12" stroke-linejoin="round"/>
<path d="M1356.2,1079.0Q1267.9,1001.6 1225.4,892.7" fill="none" stroke="#b8142f" stroke-opacity="0.6" stroke-width="9.00"/><path d="M1222.8,885.9L1229.7,892.1 1221.7,895.1Z" fill="#b8142f" fill-opacity="0.6" stroke="#b8142f" stroke-opacity="0.6" stroke-width="6.75" stroke-linejoin="round"/>
<path d="M1350.7,1084.1Q1195.2,1017.4 1088.8,886.2" fill="none" stroke="#b8142f" stroke-opacity="0.6" stroke-width="7.50"/><path d="M1084.5,880.8L1092.5,884.3 1086.3,889.3Z" fill="#b8142f" fill-opacity="0.6" stroke="#b8142f" stroke-opacity="0.6" stroke-width="5.62" stroke-linejoin="round"/>
<path d="M1347.1,1090.9Q1146.1,1074.3 976.5,965.7" fill="none" stroke="#b8142f" stroke-opacity="0.6" stroke-width="3.00"/><path d="M971.9,962.8L979.0,963.6 975.6,968.8Z" fill="#b8142f" fill-opacity="0.6" stroke="#b8142f" stroke-opacity="0.6" stroke-width="2.25" stroke-linejoin="round"/>
<path d="M1345.8,1098.7Q1140.1,1150.5 934.4,1100.1" fill="none" stroke="#b8142f" stroke-opacity="0.6" stroke-width="3.00"/><path d="M928.8,1098.7L935.8,1097.2 934.3,1103.3Z" fill="#b8142f" fill-opacity="0.6" stroke="#b8142f" stroke-opacity="0.6" stroke-width="2.25" stroke-linejoin="round"/>
<path d="M1347.1,1106.5Q1178.8,1215.8 979.4,1234.0" fill="none" stroke="#b8142f" stroke-opacity="0.6" stroke-width="9.50"/><path d="M971.9,1234.6L979.8,1229.5 980.6,1238.3Z" fill="#b8142f" fill-opacity="0.6" stroke="#b8142f" stroke-opacity="0.6" stroke-width="7.12" stroke-linejoin="round"/>
<path d="M1350.7,1113.3Q1244.9,1246.5 1089.3,1314.6" fill="none" stroke="#b8142f" stroke-opacity="0.6" stroke-width="1.35"/><path d="M1084.5,1316.6L1088.8,1311.7 1091.0,1316.8Z" fill="#b8142f" fill-opacity="0.6" stroke="#b8142f" stroke-opacity="0.6" stroke-width="1.01" stroke-linejoin="round"/>
<path d="M1356.2,1118.4Q1315.2,1228.0 1228.8,1306.1" fill="none" stroke="#b8142f" stroke-opacity="0.6" stroke-width="12.00"/><path d="M1222.8,1311.5L1226.3,1301.7 1232.8,1309.1Z" fill="#b8142f" fill-opacity="0.6" stroke="#b8142f" stroke-opacity="0.6" stroke-width="9.00" stroke-linejoin="round"/>
<path d="M1362.7,1121.6Q1360.1,1171.1 1335.8,1213.9" fill="none" stroke="#2166ac" stroke-opacity="0.6" stroke-width="6.50"/><path d="M1332.5,1219.5L1333.0,1211.1 1339.5,1215.0Z" fill="#2166ac" fill-opacity="0.6" stroke="#2166ac" stroke-opacity="0.6" stroke-width="4.88" stroke-linejoin="round"/>
<path d="M1332.5,977.9Q1358.6,1020.8 1362.4,1070.5" fill="none" stroke="#b8142f" stroke-opacity="0.6" stroke-width="2.00"/><path d="M1362.7,1075.8L1359.4,1069.9 1365.2,1069.5Z" fill="#b8142f" fill-opacity="0.6" stroke="#b8142f" stroke-opacity="0.6" stroke-width="1.50" stroke-linejoin="round"/>
<path d="M1306.3,940.4Q1262.1,921.4 1231.4,884.7" fill="none" stroke="#b8142f" stroke-opacity="0.6" stroke-width="1.35"/><path d="M1228.2,880.8L1234.1,883.6 1229.8,887.1Z" fill="#b8142f" fill-opacity="0.6" stroke="#b8142f" stroke-opacity="0.6" stroke-width="1.01" stroke-linejoin="round"/>
<path d="M1302.7,947.2Q1188.7,937.8 1092.4,876.7" fill="none" stroke="#b8142f" stroke-opacity="0.6" stroke-width="1.35"/><path d="M1088.2,874.0L1094.6,874.8 1091.6,879.5Z" fill="#b8142f" fill-opacity="0.6" stroke="#b8142f" stroke-opacity="0.6" stroke-width="1.01" stroke-linejoin="round"/>
<path d="M1301.4,955.0Q1139.8,995.7 978.1,956.2" fill="none" stroke="#b8142f" stroke-opacity="0.6" stroke-width="1.35"/><path d="M973.2,955.0L979.6,953.7 978.3,959.1Z" fill="#b8142f" fill-opacity="0.6" stroke="#b8142f" stroke-opacity="0.6" stroke-width="1.01" stroke-linejoin="round"/>
<path d="M1302.7,962.8Q1133.5,1072.6 932.9,1090.5" fill="none" stroke="#b8142f" stroke-opacity="0.6" stroke-width="1.35"/><path d="M927.5,1090.9L933.2,1087.7 933.6,1093.2Z" fill="#b8142f" fill-opacity="0.6" stroke="#b8142f" stroke-opacity="0.6" stroke-width="1.01" stroke-linejoin="round"/>
<path d="M1306.3,969.6Q1171.4,1139.3 973.0,1225.8" fill="none" stroke="#b8142f" stroke-opacity="0.6" stroke-width="1.35"/><path d="M968.3,1227.8L972.6,1222.9 974.8,1228.0Z" fill="#b8142f" fill-opacity="0.6" stroke="#b8142f" stroke-opacity="0.6" stroke-width="1.01" stroke-linejoin="round"/>
<path d="M1311.8,974.8Q1238.8,1169.8 1083.3,1307.7" fill="none" stroke="#b8142f" stroke-opacity="0.6" stroke-width="1.35"/><path d="M1079.1,1311.5L1081.7,1305.5 1085.4,1309.6Z" fill="#b8142f" fill-opacity="0.6" stroke="#b8142f" stroke-opacity="0.6" stroke-width="1.01" stroke-linejoin="round"/>
<path d="M1318.3,977.9Q1309.0,1153.3 1219.0,1303.7" fill="none" stroke="#b8142f" stroke-opacity="0.6" stroke-width="1.35"/><path d="M1216.2,1308.3L1216.9,1301.8 1221.7,1304.6Z" fill="#b8142f" fill-opacity="0.6" stroke="#b8142f" stroke-opacity="0.6" stroke-width="1.01" stroke-linejoin="round"/>
<path d="M1325.4,979.0Q1355.0,1096.3 1326.6,1213.6" fill="none" stroke="#2166ac" stroke-opacity="0.6" stroke-width="1.00"/><path d="M1325.4,1218.4L1324.2,1212.1 1329.4,1213.4Z" fill="#2166ac" fill-opacity="0.6" stroke="#2166ac" stroke-opacity="0.6" stroke-width="0.75" stroke-linejoin="round"/>
<path d="M1222.8,885.9Q1311.8,963.9 1354.3,1074.1" fill="none" stroke="#b8142f" stroke-opacity="0.6" stroke-width="1.35"/><path d="M1356.2,1079.0L1351.5,1074.4 1356.6,1072.5Z" fill="#b8142f" fill-opacity="0.6" stroke="#b8142f" stroke-opacity="0.6" stroke-width="1.01" stroke-linejoin="round"/>
<path d="M1228.2,880.8Q1272.5,899.8 1303.1,936.5" fill="none" stroke="#b8142f" stroke-opacity="0.6" stroke-width="1.35"/><path d="M1306.3,940.4L1300.4,937.6 1304.7,934.1Z" fill="#b8142f" fill-opacity="0.6" stroke="#b8142f" stroke-opacity="0.6" stroke-width="1.01" stroke-linejoin="round"/>
<path d="M1185.1,866.2Q1139.8,877.6 1094.4,867.4" fill="none" stroke="#b8142f" stroke-opacity="0.6" stroke-width="1.35"/><path d="M1089.5,866.2L1095.8,864.9 1094.6,870.3Z" fill="#b8142f" fill-opacity="0.6" stroke="#b8142f" stroke-opacity="0.6" stroke-width="1.01" stroke-linejoin="round"/>
<path d="M1186.4,874.0Q1090.5,936.3 977.0,946.8" fill="none" stroke="#b8142f" stroke-opacity="0.6" stroke-width="1.35"/><path d="M971.9,947.2L977.6,944.0 978.0,949.5Z" fill="#b8142f" fill-opacity="0.6" stroke="#b8142f" stroke-opacity="0.6" stroke-width="1.01" stroke-linejoin="round"/>
<path d="M1190.1,880.8Q1084.2,1014.0 928.6,1082.1" fill="none" stroke="#b8142f" stroke-opacity="0.6" stroke-width="1.35"/><path d="M923.9,1084.1L928.2,1079.2 930.4,1084.3Z" fill="#b8142f" fill-opacity="0.6" stroke="#b8142f" stroke-opacity="0.6" stroke-width="1.01" stroke-linejoin="round"/>
<path d="M1195.5,885.9Q1122.6,1081.0 967.1,1218.9" fill="none" stroke="#b8142f" stroke-opacity="0.6" stroke-width="1.35"/><path d="M962.8,1222.6L965.4,1216.7 969.1,1220.8Z" fill="#b8142f" fill-opacity="0.6" stroke="#b8142f" stroke-opacity="0.6" stroke-width="1.01" stroke-linejoin="round"/>
<path d="M1202.1,889.1Q1190.3,1112.4 1075.3,1303.8" fill="none" stroke="#b8142f" stroke-opacity="0.6" stroke-width="1.35"/><path d="M1072.5,1308.3L1073.2,1301.8 1078.0,1304.6Z" fill="#b8142f" fill-opacity="0.6" stroke="#b8142f" stroke-opacity="0.6" stroke-width="1.01" stroke-linejoin="round"/>
<path d="M1209.1,890.2Q1261.0,1095.9 1210.5,1301.6" fill="none" stroke="#b8142f" stroke-opacity="0.6" stroke-width="1.35"/><path d="M1209.1,1307.2L1207.9,1300.8 1213.3,1302.1Z" fill="#b8142f" fill-opacity="0.6" stroke="#b8142f" stroke-opacity="0.6" stroke-width="1.01" stroke-linejoin="round"/>
<path d="M1216.2,889.1Q1307.5,1039.2 1318.0,1214.1" fill="none" stroke="#b8142f" stroke-opacity="0.6" stroke-width="1.35"/><path d="M1318.3,1219.5L1315.2,1213.7 1320.7,1213.4Z" fill="#b8142f" fill-opacity="0.6" stroke="#b8142f" stroke-opacity="0.6" stroke-width="1.01" stroke-linejoin="round"/>
<path d="M1084.5,880.8Q1240.3,947.7 1346.8,1079.2" fill="none" stroke="#b8142f" stroke-opacity="0.6" stroke-width="5.00"/><path d="M1350.7,1084.1L1343.6,1080.9 1349.1,1076.5Z" fill="#b8142f" fill-opacity="0.6" stroke="#b8142f" stroke-opacity="0.6" stroke-width="3.75" stroke-linejoin="round"/>
<path d="M1088.2,874.0Q1202.1,883.4 1298.4,944.5" fill="none" stroke="#b8142f" stroke-opacity="0.6" stroke-width="1.35"/><path d="M1302.7,947.2L1296.2,946.4 1299.2,941.7Z" fill="#b8142f" fill-opacity="0.6" stroke="#b8142f" stroke-opacity="0.6" stroke-width="1.01" stroke-linejoin="round"/>
<path d="M1089.5,866.2Q1134.8,854.8 1180.2,865.0" fill="none" stroke="#b8142f" stroke-opacity="0.6" stroke-width="1.35"/><path d="M1185.1,866.2L1178.8,867.5 1180.0,862.1Z" fill="#b8142f" fill-opacity="0.6" stroke="#b8142f" stroke-opacity="0.6" stroke-width="1.01" stroke-linejoin="round"/>
<path d="M1046.4,880.8Q1016.4,918.5 972.9,938.4" fill="none" stroke="#b8142f" stroke-opacity="0.6" stroke-width="1.35"/><path d="M968.3,940.4L972.5,935.5 974.8,940.6Z" fill="#b8142f" fill-opacity="0.6" stroke="#b8142f" stroke-opacity="0.6" stroke-width="1.01" stroke-linejoin="round"/>
<path d="M1051.8,885.9Q1010.4,996.8 922.4,1075.5" fill="none" stroke="#b8142f" stroke-opacity="0.6" stroke-width="1.35"/><path d="M918.4,1079.0L921.0,1073.0 924.7,1077.1Z" fill="#b8142f" fill-opacity="0.6" stroke="#b8142f" stroke-opacity="0.6" stroke-width="1.01" stroke-linejoin="round"/>
<path d="M1058.4,889.1Q1049.1,1064.2 959.4,1214.4" fill="none" stroke="#b8142f" stroke-opacity="0.6" stroke-width="3.00"/><path d="M956.3,1219.5L956.9,1212.4 962.2,1215.6Z" fill="#b8142f" fill-opacity="0.6" stroke="#b8142f" stroke-opacity="0.6" stroke-width="2.25" stroke-linejoin="round"/>
<path d="M1065.5,890.2Q1117.3,1095.9 1066.8,1301.6" fill="none" stroke="#b8142f" stroke-opacity="0.6" stroke-width="1.35"/><path d="M1065.5,1307.2L1064.2,1300.8 1069.6,1302.1Z" fill="#b8142f" fill-opacity="0.6" stroke="#b8142f" stroke-opacity="0.6" stroke-width="1.01" stroke-linejoin="round"/>
<path d="M1072.5,889.1Q1188.5,1079.8 1201.7,1302.3" fill="none" stroke="#b8142f" stroke-opacity="0.6" stroke-width="3.00"/><path d="M1202.1,1308.3L1198.6,1302.1 1204.8,1301.7Z" fill="#b8142f" fill-opacity="0.6" stroke="#b8142f" stroke-opacity="0.6" stroke-width="2.25" stroke-linejoin="round"/>
<path d="M1079.1,885.9Q1235.7,1023.1 1309.8,1217.4" fill="none" stroke="#b8142f" stroke-opacity="0.6" stroke-width="1.35"/><path d="M1311.8,1222.6L1307.1,1218.1 1312.3,1216.1Z" fill="#b8142f" fill-opacity="0.6" stroke="#b8142f" stroke-opacity="0.6" stroke-width="1.01" stroke-linejoin="round"/>
<path d="M971.9,962.8Q1172.9,979.4 1342.5,1088.0" fill="none" stroke="#b8142f" stroke-opacity="0.6" stroke-width="1.35"/><path d="M1347.1,1090.9L1340.6,1090.1 1343.6,1085.4Z" fill="#b8142f" fill-opacity="0.6" stroke="#b8142f" stroke-opacity="0.6" stroke-width="1.01" stroke-linejoin="round"/>
<path d="M973.2,955.0Q1134.8,914.3 1296.5,953.8" fill="none" stroke="#b8142f" stroke-opacity="0.6" stroke-width="1.35"/><path d="M1301.4,955.0L1295.0,956.3 1296.3,950.9Z" fill="#b8142f" fill-opacity="0.6" stroke="#b8142f" stroke-opacity="0.6" stroke-width="1.01" stroke-linejoin="round"/>
<path d="M971.9,947.2Q1067.8,885.0 1181.4,874.4" fill="none" stroke="#b8142f" stroke-opacity="0.6" stroke-width="1.35"/><path d="M1186.4,874.0L1180.8,877.2 1180.3,871.7Z" fill="#b8142f" fill-opacity="0.6" stroke="#b8142f" stroke-opacity="0.6" stroke-width="1.01" stroke-linejoin="round"/>
<path d="M968.3,940.4Q998.2,902.7 1041.8,882.8" fill="none" stroke="#b8142f" stroke-opacity="0.6" stroke-width="1.35"/><path d="M1046.4,880.8L1042.1,885.7 1039.9,880.6Z" fill="#b8142f" fill-opacity="0.6" stroke="#b8142f" stroke-opacity="0.6" stroke-width="1.01" stroke-linejoin="round"/>
<path d="M942.1,977.9Q939.5,1028.1 914.5,1071.4" fill="none" stroke="#b8142f" stroke-opacity="0.6" stroke-width="1.35"/><path d="M911.9,1075.8L912.5,1069.3 917.3,1072.1Z" fill="#b8142f" fill-opacity="0.6" stroke="#b8142f" stroke-opacity="0.6" stroke-width="1.01" stroke-linejoin="round"/>
<path d="M949.2,979.0Q978.7,1096.1 950.5,1213.2" fill="none" stroke="#b8142f" stroke-opacity="0.6" stroke-width="1.35"/><path d="M949.2,1218.4L947.9,1212.0 953.3,1213.3Z" fill="#b8142f" fill-opacity="0.6" stroke="#b8142f" stroke-opacity="0.6" stroke-width="1.01" stroke-linejoin="round"/>
<path d="M956.3,977.9Q1047.6,1128.0 1058.1,1302.9" fill="none" stroke="#b8142f" stroke-opacity="0.6" stroke-width="1.35"/><path d="M1058.4,1308.3L1055.3,1302.5 1060.8,1302.2Z" fill="#b8142f" fill-opacity="0.6" stroke="#b8142f" stroke-opacity="0.6" stroke-width="1.01" stroke-linejoin="round"/>
<path d="M962.8,974.8Q1119.5,1111.9 1193.5,1306.2" fill="none" stroke="#b8142f" stroke-opacity="0.6" stroke-width="1.35"/><path d="M1195.5,1311.5L1190.8,1306.9 1196.0,1305.0Z" fill="#b8142f" fill-opacity="0.6" stroke="#b8142f" stroke-opacity="0.6" stroke-width="1.01" stroke-linejoin="round"/>
<path d="M968.3,969.6Q1167.5,1055.1 1303.1,1223.8" fill="none" stroke="#b8142f" stroke-opacity="0.6" stroke-width="1.35"/><path d="M1306.3,1227.8L1300.5,1224.9 1304.8,1221.5Z" fill="#b8142f" fill-opacity="0.6" stroke="#b8142f" stroke-opacity="0.6" stroke-width="1.01" stroke-linejoin="round"/>
<path d="M928.8,1098.7Q1134.5,1046.9 1340.2,1097.3" fill="none" stroke="#b8142f" stroke-opacity="0.6" stroke-width="1.80"/><path d="M1345.8,1098.7L1339.2,1100.0 1340.6,1094.5Z" fill="#b8142f" fill-opacity="0.6" stroke="#b8142f" stroke-opacity="0.6" stroke-width="1.35" stroke-linejoin="round"/>
<path d="M927.5,1090.9Q1096.7,981.1 1297.3,963.2" fill="none" stroke="#b8142f" stroke-opacity="0.6" stroke-width="1.35"/><path d="M1302.7,962.8L1297.0,966.0 1296.6,960.5Z" fill="#b8142f" fill-opacity="0.6" stroke="#b8142f" stroke-opacity="0.6" stroke-width="1.01" stroke-linejoin="round"/>
<path d="M923.9,1084.1Q1029.7,950.9 1185.3,882.8" fill="none" stroke="#b8142f" stroke-opacity="0.6" stroke-width="1.35"/><path d="M1190.1,880.8L1185.8,885.7 1183.6,880.6Z" fill="#b8142f" fill-opacity="0.6" stroke="#b8142f" stroke-opacity="0.6" stroke-width="1.01" stroke-linejoin="round"/>
<path d="M918.4,1079.0Q959.9,968.1 1047.9,889.4" fill="none" stroke="#b8142f" stroke-opacity="0.6" stroke-width="1.35"/><path d="M1051.8,885.9L1049.2,891.9 1045.6,887.8Z" fill="#b8142f" fill-opacity="0.6" stroke="#b8142f" stroke-opacity="0.6" stroke-width="1.01" stroke-linejoin="round"/>
<path d="M911.9,1075.8Q914.5,1025.6 939.5,982.3" fill="none" stroke="#b8142f" stroke-opacity="0.6" stroke-width="1.35"/><path d="M942.1,977.9L941.5,984.4 936.7,981.6Z" fill="#b8142f" fill-opacity="0.6" stroke="#b8142f" stroke-opacity="0.6" stroke-width="1.01" stroke-linejoin="round"/>
<path d="M911.9,1121.6Q938.0,1164.6 941.8,1214.4" fill="none" stroke="#b8142f" stroke-opacity="0.6" stroke-width="1.35"/><path d="M942.1,1219.5L939.0,1213.8 944.5,1213.4Z" fill="#b8142f" fill-opacity="0.6" stroke="#b8142f" stroke-opacity="0.6" stroke-width="1.01" stroke-linejoin="round"/>
<path d="M918.4,1118.4Q1007.5,1196.4 1050.0,1306.6" fill="none" stroke="#b8142f" stroke-opacity="0.6" stroke-width="1.35"/><path d="M1051.8,1311.5L1047.1,1306.9 1052.3,1305.0Z" fill="#b8142f" fill-opacity="0.6" stroke="#b8142f" stroke-opacity="0.6" stroke-width="1.01" stroke-linejoin="round"/>
<path d="M923.9,1113.3Q1080.2,1180.4 1186.8,1312.6" fill="none" stroke="#b8142f" stroke-opacity="0.6" stroke-width="1.35"/><path d="M1190.1,1316.6L1184.2,1313.8 1188.5,1310.3Z" fill="#b8142f" fill-opacity="0.6" stroke="#b8142f" stroke-opacity="0.6" stroke-width="1.01" stroke-linejoin="round"/>
<path d="M927.5,1106.5Q1128.5,1123.1 1298.1,1231.7" fill="none" stroke="#b8142f" stroke-opacity="0.6" stroke-width="1.35"/><path d="M1302.7,1234.6L1296.2,1233.8 1299.2,1229.1Z" fill="#b8142f" fill-opacity="0.6" stroke="#b8142f" stroke-opacity="0.6" stroke-width="1.01" stroke-linejoin="round"/>
<path d="M971.9,1234.6Q1141.1,1124.8 1341.7,1106.9" fill="none" stroke="#b8142f" stroke-opacity="0.6" stroke-width="3.00"/><path d="M1347.1,1106.5L1341.0,1110.1 1340.4,1103.9Z" fill="#b8142f" fill-opacity="0.6" stroke="#b8142f" stroke-opacity="0.6" stroke-width="2.25" stroke-linejoin="round"/>
<path d="M968.3,1227.8Q1103.2,1058.1 1301.6,971.6" fill="none" stroke="#b8142f" stroke-opacity="0.6" stroke-width="1.35"/><path d="M1306.3,969.6L1302.0,974.5 1299.8,969.4Z" fill="#b8142f" fill-opacity="0.6" stroke="#b8142f" stroke-opacity="0.6" stroke-width="1.01" stroke-linejoin="round"/>
<path d="M962.8,1222.6Q1035.8,1027.6 1191.3,889.7" fill="none" stroke="#b8142f" stroke-opacity="0.6" stroke-width="1.35"/><path d="M1195.5,885.9L1192.9,891.9 1189.2,887.8Z" fill="#b8142f" fill-opacity="0.6" stroke="#b8142f" stroke-opacity="0.6" stroke-width="1.01" stroke-linejoin="round"/>
<path d="M956.3,1219.5Q965.6,1044.1 1055.6,893.7" fill="none" stroke="#b8142f" stroke-opacity="0.6" stroke-width="2.00"/><path d="M1058.4,889.1L1057.7,895.9 1052.7,892.9Z" fill="#b8142f" fill-opacity="0.6" stroke="#b8142f" stroke-opacity="0.6" stroke-width="1.50" stroke-linejoin="round"/>
<path d="M949.2,1218.4Q919.7,1101.3 947.9,984.2" fill="none" stroke="#b8142f" stroke-opacity="0.6" stroke-width="1.35"/><path d="M949.2,979.0L950.5,985.4 945.1,984.1Z" fill="#b8142f" fill-opacity="0.6" stroke="#b8142f" stroke-opacity="0.6" stroke-width="1.01" stroke-linejoin="round"/>
<path d="M942.1,1219.5Q916.0,1176.5 912.2,1126.7" fill="none" stroke="#b8142f" stroke-opacity="0.6" stroke-width="1.35"/><path d="M911.9,1121.6L915.0,1127.3 909.5,1127.7Z" fill="#b8142f" fill-opacity="0.6" stroke="#b8142f" stroke-opacity="0.6" stroke-width="1.01" stroke-linejoin="round"/>
<path d="M968.3,1257.0Q1012.5,1276.0 1043.2,1312.7" fill="none" stroke="#b8142f" stroke-opacity="0.6" stroke-width="1.35"/><path d="M1046.4,1316.6L1040.5,1313.8 1044.8,1310.3Z" fill="#b8142f" fill-opacity="0.6" stroke="#b8142f" stroke-opacity="0.6" stroke-width="1.01" stroke-linejoin="round"/>
<path d="M971.9,1250.2Q1085.9,1259.6 1182.2,1320.7" fill="none" stroke="#b8142f" stroke-opacity="0.6" stroke-width="1.35"/><path d="M1186.4,1323.4L1180.0,1322.6 1183.0,1317.9Z" fill="#b8142f" fill-opacity="0.6" stroke="#b8142f" stroke-opacity="0.6" stroke-width="1.01" stroke-linejoin="round"/>
<path d="M973.2,1242.4Q1134.8,1201.7 1296.5,1241.2" fill="none" stroke="#b8142f" stroke-opacity="0.6" stroke-width="1.35"/><path d="M1301.4,1242.4L1295.0,1243.7 1296.3,1238.3Z" fill="#b8142f" fill-opacity="0.6" stroke="#b8142f" stroke-opacity="0.6" stroke-width="1.01" stroke-linejoin="round"/>
<path d="M1084.5,1316.6Q1190.4,1183.4 1346.0,1115.3" fill="none" stroke="#b8142f" stroke-opacity="0.6" stroke-width="1.35"/><path d="M1350.7,1113.3L1346.4,1118.2 1344.2,1113.1Z" fill="#b8142f" fill-opacity="0.6" stroke="#b8142f" stroke-opacity="0.6" stroke-width="1.01" stroke-linejoin="round"/>
<path d="M1079.1,1311.5Q1152.0,1116.4 1307.5,978.5" fill="none" stroke="#b8142f" stroke-opacity="0.6" stroke-width="1.35"/><path d="M1311.8,974.8L1309.2,980.7 1305.5,976.6Z" fill="#b8142f" fill-opacity="0.6" stroke="#b8142f" stroke-opacity="0.6" stroke-width="1.01" stroke-linejoin="round"/>
<path d="M1072.5,1308.3Q1084.3,1085.0 1199.3,893.6" fill="none" stroke="#b8142f" stroke-opacity="0.6" stroke-width="1.35"/><path d="M1202.1,889.1L1201.4,895.6 1196.6,892.8Z" fill="#b8142f" fill-opacity="0.6" stroke="#b8142f" stroke-opacity="0.6" stroke-width="1.01" stroke-linejoin="round"/>
<path d="M1065.5,1307.2Q1013.6,1101.5 1064.1,895.8" fill="none" stroke="#b8142f" stroke-opacity="0.6" stroke-width="1.35"/><path d="M1065.5,890.2L1066.7,896.6 1061.3,895.3Z" fill="#b8142f" fill-opacity="0.6" stroke="#b8142f" stroke-opacity="0.6" stroke-width="1.01" stroke-linejoin="round"/>
<path d="M1058.4,1308.3Q967.1,1158.2 956.6,983.3" fill="none" stroke="#b8142f" stroke-opacity="0.6" stroke-width="1.35"/><path d="M956.3,977.9L959.4,983.7 953.9,984.0Z" fill="#b8142f" fill-opacity="0.6" stroke="#b8142f" stroke-opacity="0.6" stroke-width="1.01" stroke-linejoin="round"/>
<path d="M1051.8,1311.5Q962.8,1233.5 920.3,1123.3" fill="none" stroke="#b8142f" stroke-opacity="0.6" stroke-width="1.35"/><path d="M918.4,1118.4L923.1,1123.0 918.0,1124.9Z" fill="#b8142f" fill-opacity="0.6" stroke="#b8142f" stroke-opacity="0.6" stroke-width="1.01" stroke-linejoin="round"/>
<path d="M1046.4,1316.6Q1002.1,1297.6 971.5,1260.9" fill="none" stroke="#b8142f" stroke-opacity="0.6" stroke-width="1.35"/><path d="M968.3,1257.0L974.2,1259.8 969.9,1263.3Z" fill="#b8142f" fill-opacity="0.6" stroke="#b8142f" stroke-opacity="0.6" stroke-width="1.01" stroke-linejoin="round"/>
<path d="M1089.5,1331.2Q1134.8,1319.8 1180.2,1330.0" fill="none" stroke="#b8142f" stroke-opacity="0.6" stroke-width="1.35"/><path d="M1185.1,1331.2L1178.8,1332.5 1180.0,1327.1Z" fill="#b8142f" fill-opacity="0.6" stroke="#b8142f" stroke-opacity="0.6" stroke-width="1.01" stroke-linejoin="round"/>
<path d="M1088.2,1323.4Q1184.1,1261.1 1297.6,1250.6" fill="none" stroke="#b8142f" stroke-opacity="0.6" stroke-width="1.35"/><path d="M1302.7,1250.2L1297.0,1253.4 1296.6,1247.9Z" fill="#b8142f" fill-opacity="0.6" stroke="#b8142f" stroke-opacity="0.6" stroke-width="1.01" stroke-linejoin="round"/>
<path d="M1222.8,1311.5Q1264.2,1200.8 1351.9,1122.2" fill="none" stroke="#b8142f" stroke-opacity="0.6" stroke-width="3.00"/><path d="M1356.2,1118.4L1353.4,1125.0 1349.3,1120.4Z" fill="#b8142f" fill-opacity="0.6" stroke="#b8142f" stroke-opacity="0.6" stroke-width="2.25" stroke-linejoin="round"/>
<path d="M1216.2,1308.3Q1225.5,1132.9 1315.5,982.5" fill="none" stroke="#b8142f" stroke-opacity="0.6" stroke-width="1.35"/><path d="M1318.3,977.9L1317.6,984.4 1312.9,981.6Z" fill="#b8142f" fill-opacity="0.6" stroke="#b8142f" stroke-opacity="0.6" stroke-width="1.01" stroke-linejoin="round"/>
<path d="M1209.1,1307.2Q1157.3,1101.5 1207.8,895.8" fill="none" stroke="#b8142f" stroke-opacity="0.6" stroke-width="1.35"/><path d="M1209.1,890.2L1210.4,896.6 1205.0,895.3Z" fill="#b8142f" fill-opacity="0.6" stroke="#b8142f" stroke-opacity="0.6" stroke-width="1.01" stroke-linejoin="round"/>
<path d="M1202.1,1308.3Q1085.9,1117.3 1072.8,894.4" fill="none" stroke="#b8142f" stroke-opacity="0.6" stroke-width="1.35"/><path d="M1072.5,889.1L1075.6,894.9 1070.1,895.2Z" fill="#b8142f" fill-opacity="0.6" stroke="#b8142f" stroke-opacity="0.6" stroke-width="1.01" stroke-linejoin="round"/>
<path d="M1195.5,1311.5Q1038.9,1174.3 964.8,980.0" fill="none" stroke="#b8142f" stroke-opacity="0.6" stroke-width="1.35"/><path d="M962.8,974.8L967.5,979.3 962.3,981.3Z" fill="#b8142f" fill-opacity="0.6" stroke="#b8142f" stroke-opacity="0.6" stroke-width="1.01" stroke-linejoin="round"/>
<path d="M1190.1,1316.6Q1033.7,1249.5 927.1,1117.3" fill="none" stroke="#b8142f" stroke-opacity="0.6" stroke-width="1.35"/><path d="M923.9,1113.3L929.7,1116.1 925.4,1119.6Z" fill="#b8142f" fill-opacity="0.6" stroke="#b8142f" stroke-opacity="0.6" stroke-width="1.01" stroke-linejoin="round"/>
<path d="M1186.4,1323.4Q1072.5,1314.0 976.2,1252.9" fill="none" stroke="#b8142f" stroke-opacity="0.6" stroke-width="1.35"/><path d="M971.9,1250.2L978.4,1251.0 975.4,1255.7Z" fill="#b8142f" fill-opacity="0.6" stroke="#b8142f" stroke-opacity="0.6" stroke-width="1.01" stroke-linejoin="round"/>
<path d="M1185.1,1331.2Q1139.8,1342.6 1094.4,1332.4" fill="none" stroke="#b8142f" stroke-opacity="0.6" stroke-width="1.35"/><path d="M1089.5,1331.2L1095.8,1329.9 1094.6,1335.3Z" fill="#b8142f" fill-opacity="0.6" stroke="#b8142f" stroke-opacity="0.6" stroke-width="1.01" stroke-linejoin="round"/>
<path d="M1228.2,1316.6Q1258.2,1278.9 1301.7,1259.0" fill="none" stroke="#b8142f" stroke-opacity="0.6" stroke-width="1.35"/><path d="M1306.3,1257.0L1302.1,1261.9 1299.8,1256.8Z" fill="#b8142f" fill-opacity="0.6" stroke="#b8142f" stroke-opacity="0.6" stroke-width="1.01" stroke-linejoin="round"/>
<path d="M1332.5,1219.5Q1335.1,1169.5 1359.9,1126.3" fill="none" stroke="#2166ac" stroke-opacity="0.6" stroke-width="2.50"/><path d="M1362.7,1121.6L1362.1,1128.5 1357.0,1125.5Z" fill="#2166ac" fill-opacity="0.6" stroke="#2166ac" stroke-opacity="0.6" stroke-width="1.88" stroke-linejoin="round"/>
<path d="M1325.4,1218.4Q1295.9,1101.3 1324.1,984.2" fill="none" stroke="#b8142f" stroke-opacity="0.6" stroke-width="1.35"/><path d="M1325.4,979.0L1326.7,985.4 1321.3,984.1Z" fill="#b8142f" fill-opacity="0.6" stroke="#b8142f" stroke-opacity="0.6" stroke-width="1.01" stroke-linejoin="round"/>
<path d="M1318.3,1219.5Q1227.0,1069.4 1216.5,894.5" fill="none" stroke="#b8142f" stroke-opacity="0.6" stroke-width="1.35"/><path d="M1216.2,889.1L1219.3,894.9 1213.8,895.2Z" fill="#b8142f" fill-opacity="0.6" stroke="#b8142f" stroke-opacity="0.6" stroke-width="1.01" stroke-linejoin="round"/>
<path d="M1311.8,1222.6Q1155.1,1085.5 1081.1,891.2" fill="none" stroke="#b8142f" stroke-opacity="0.6" stroke-width="1.35"/><path d="M1079.1,885.9L1083.8,890.5 1078.6,892.4Z" fill="#b8142f" fill-opacity="0.6" stroke="#b8142f" stroke-opacity="0.6" stroke-width="1.01" stroke-linejoin="round"/>
<path d="M1306.3,1227.8Q1107.1,1142.3 971.5,973.6" fill="none" stroke="#b8142f" stroke-opacity="0.6" stroke-width="1.35"/><path d="M968.3,969.6L974.1,972.5 969.8,975.9Z" fill="#b8142f" fill-opacity="0.6" stroke="#b8142f" stroke-opacity="0.6" stroke-width="1.01" stroke-linejoin="round"/>
<path d="M1302.7,1234.6Q1101.7,1218.0 932.1,1109.4" fill="none" stroke="#b8142f" stroke-opacity="0.6" stroke-width="1.35"/><path d="M927.5,1106.5L934.0,1107.3 931.0,1112.0Z" fill="#b8142f" fill-opacity="0.6" stroke="#b8142f" stroke-opacity="0.6" stroke-width="1.01" stroke-linejoin="round"/>
<path d="M1301.4,1242.4Q1139.8,1283.1 978.1,1243.6" fill="none" stroke="#b8142f" stroke-opacity="0.6" stroke-width="1.35"/><path d="M973.2,1242.4L979.6,1241.1 978.3,1246.5Z" fill="#b8142f" fill-opacity="0.6" stroke="#b8142f" stroke-opacity="0.6" stroke-width="1.01" stroke-linejoin="round"/>
<path d="M1302.7,1250.2Q1206.8,1312.4 1093.2,1323.0" fill="none" stroke="#b8142f" stroke-opacity="0.6" stroke-width="1.35"/><path d="M1088.2,1323.4L1093.8,1320.2 1094.3,1325.7Z" fill="#b8142f" fill-opacity="0.6" stroke="#b8142f" stroke-opacity="0.6" stroke-width="1.01" stroke-linejoin="round"/>
<path d="M1306.3,1257.0Q1276.4,1294.7 1232.8,1314.6" fill="none" stroke="#b8142f" stroke-opacity="0.6" stroke-width="1.35"/><path d="M1228.2,1316.6L1232.5,1311.7 1234.7,1316.8Z" fill="#b8142f" fill-opacity="0.6" stroke="#b8142f" stroke-opacity="0.6" stroke-width="1.01" stroke-linejoin="round"/>
<path d="M1393.8,1098.7C1486.9,1145.3 1489.0,1055.2 1399.9,1095.8" fill="none" stroke="#2166ac" stroke-opacity="0.6" stroke-width="7.50"/><path d="M1393.8,1098.7L1399.1,1091.8 1402.5,1099.0Z" fill="#2166ac" fill-opacity="0.6" stroke="#2166ac" stroke-opacity="0.6" stroke-width="5.62" stroke-linejoin="round"/>
<path d="M1344.8,940.9C1448.1,923.7 1395.7,849.0 1347.3,936.3" fill="none" stroke="#b8142f" stroke-opacity="0.6" stroke-width="1.30"/><path d="M1344.8,940.9L1345.2,934.4 1350.0,937.0Z" fill="#b8142f" fill-opacity="0.6" stroke="#b8142f" stroke-opacity="0.6" stroke-width="0.98" stroke-linejoin="round"/>
<path d="M1216.6,843.4C1290.0,768.8 1203.7,739.1 1215.9,838.2" fill="none" stroke="#b8142f" stroke-opacity="0.6" stroke-width="1.30"/><path d="M1216.6,843.4L1213.0,837.9 1218.5,837.2Z" fill="#b8142f" fill-opacity="0.6" stroke="#b8142f" stroke-opacity="0.6" stroke-width="0.98" stroke-linejoin="round"/>
<path d="M1058.0,843.4C1073.6,739.9 986.3,766.6 1054.4,839.6" fill="none" stroke="#b8142f" stroke-opacity="0.6" stroke-width="2.00"/><path d="M1058.0,843.4L1051.7,841.0 1055.9,837.0Z" fill="#b8142f" fill-opacity="0.6" stroke="#b8142f" stroke-opacity="0.6" stroke-width="1.50" stroke-linejoin="round"/>
<path d="M929.8,940.9C881.6,848.0 826.7,920.9 924.7,940.0" fill="none" stroke="#b8142f" stroke-opacity="0.6" stroke-width="1.00"/><path d="M929.8,940.9L923.6,942.5 924.6,937.2Z" fill="#b8142f" fill-opacity="0.6" stroke="#b8142f" stroke-opacity="0.6" stroke-width="0.75" stroke-linejoin="round"/>
<path d="M880.8,1098.7C787.2,1051.9 785.6,1143.2 876.1,1101.0" fill="none" stroke="#b8142f" stroke-opacity="0.6" stroke-width="1.00"/><path d="M880.8,1098.7L876.7,1103.6 874.4,1098.8Z" fill="#b8142f" fill-opacity="0.6" stroke="#b8142f" stroke-opacity="0.6" stroke-width="0.75" stroke-linejoin="round"/>
<path d="M929.8,1256.5C826.5,1273.7 878.9,1348.4 927.3,1261.1" fill="none" stroke="#b8142f" stroke-opacity="0.6" stroke-width="1.00"/><path d="M929.8,1256.5L929.4,1262.9 924.7,1260.3Z" fill="#b8142f" fill-opacity="0.6" stroke="#b8142f" stroke-opacity="0.6" stroke-width="0.75" stroke-linejoin="round"/>
<path d="M1058.0,1354.0C984.6,1428.6 1070.9,1458.3 1058.7,1359.2" fill="none" stroke="#b8142f" stroke-opacity="0.6" stroke-width="1.00"/><path d="M1058.0,1354.0L1061.5,1359.4 1056.1,1360.1Z" fill="#b8142f" fill-opacity="0.6" stroke="#b8142f" stroke-opacity="0.6" stroke-width="0.75" stroke-linejoin="round"/>
<path d="M1216.6,1354.0C1201.0,1457.5 1288.3,1430.8 1220.2,1357.8" fill="none" stroke="#b8142f" stroke-opacity="0.6" stroke-width="1.00"/><path d="M1216.6,1354.0L1222.5,1356.4 1218.6,1360.1Z" fill="#b8142f" fill-opacity="0.6" stroke="#b8142f" stroke-opacity="0.6" stroke-width="0.75" stroke-linejoin="round"/>
<path d="M1344.8,1256.5C1393.0,1349.2 1447.8,1276.7 1350.4,1257.5" fill="none" stroke="#2166ac" stroke-opacity="0.6" stroke-width="2.50"/><path d="M1344.8,1256.5L1351.5,1254.7 1350.4,1260.6Z" fill="#2166ac" fill-opacity="0.6" stroke="#2166ac" stroke-opacity="0.6" stroke-width="1.88" stroke-linejoin="round"/>
<circle cx="1369.8" cy="1098.7" r="24" fill="#63B967"/>
<circle cx="1325.4" cy="955.0" r="24" fill="#6FD7F7"/>
<circle cx="1209.1" cy="866.2" r="24" fill="#C0C0FD"/>
<circle cx="1065.5" cy="866.2" r="24" fill="#85B6E1"/>
<circle cx="949.2" cy="955.0" r="24" fill="#9EBFA7"/>
<circle cx="904.8" cy="1098.7" r="24" fill="#9C79AE"/>
<circle cx="949.2" cy="1242.4" r="24" fill="#E69ED4"/>
<circle cx="1065.5" cy="1331.2" r="24" fill="#ADEA2C"/>
<circle cx="1209.1" cy="1331.2" r="24" fill="#EBA571"/>
<circle cx="1325.4" cy="1242.4" r="24" fill="#4D7189"/>
<text x="211" y="829.2" font-size="27" text-anchor="start" >Myoid cells</text>
<text x="399" y="816.2" font-size="27" text-anchor="start" >Basal cells</text>
<text x="525" y="920.2" font-size="27" text-anchor="start" >Principal cells</text>
<text x="46" y="928.2" font-size="27" text-anchor="start" >Neuronal cells</text>
<text x="11" y="1128.9" font-size="27" text-anchor="start" >Clear cells</text>
<text x="586" y="1125.7" font-size="27" text-anchor="start" >Fibroblasts</text>
<text x="2" y="1287.2" font-size="27" text-anchor="start" >Endothelial cells</text>
<text x="539" y="1286.2" font-size="27" text-anchor="start" >Monocytes</text>
<text x="212" y="1385.2" font-size="27" text-anchor="start" >Spermatids</text>
<text x="413" y="1373.2" font-size="27" text-anchor="start" >T cells</text>
<text x="991" y="865.2" font-size="27" text-anchor="start" >Myoid cells</text>
<text x="1166" y="851.2" font-size="27" text-anchor="start" >Basal cells</text>
<text x="1293" y="959.2" font-size="27" text-anchor="start" >Principal cells</text>
<text x="794" y="964.2" font-size="27" text-anchor="start" >Neuronal cells</text>
<text x="810" y="1112.5" font-size="27" text-anchor="start" >Clear cells</text>
<text x="1352" y="1108.9" font-size="27" text-anchor="start" >Fibroblasts</text>
<text x="792" y="1271.2" font-size="27" text-anchor="start" >Endothelial cells</text>
<text x="1306" y="1260.2" font-size="27" text-anchor="start" >Monocytes</text>
<text x="1034" y="1358.2" font-size="27" text-anchor="start" >Spermatids</text>
<text x="1213" y="1362.2" font-size="27" text-anchor="start" >T cells</text>
</svg></body></html>
